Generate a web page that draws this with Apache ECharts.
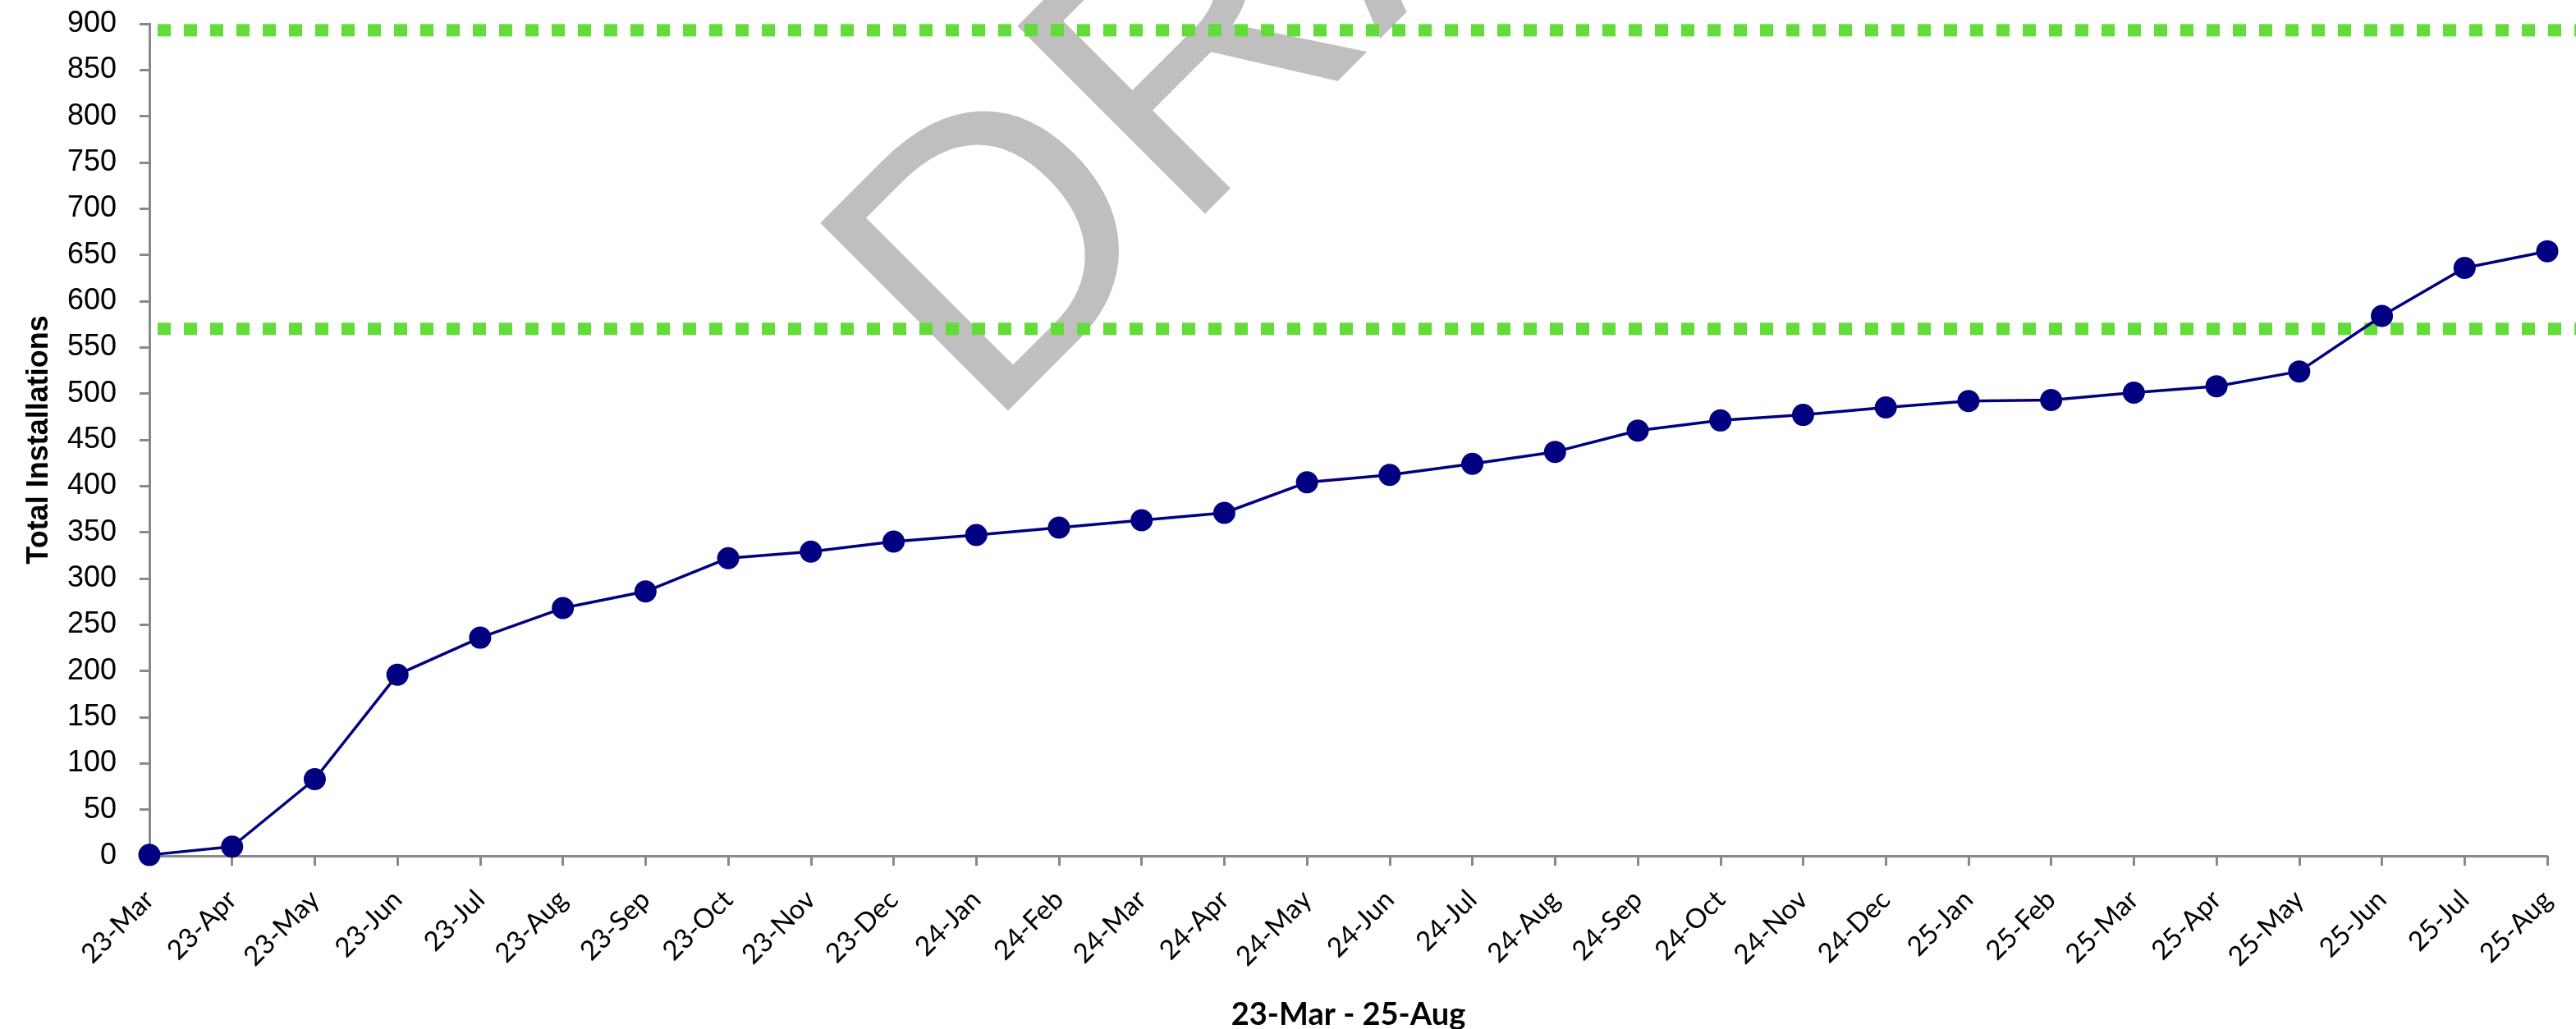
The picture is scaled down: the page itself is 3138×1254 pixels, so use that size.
<!DOCTYPE html>
<html>
<head>
<meta charset="utf-8">
<title>Total Installations</title>
<script src="https://cdn.jsdelivr.net/npm/echarts@6/dist/echarts.min.js"></script>
<style>
  html, body { margin: 0; padding: 0; background: #ffffff; }
  #chart { width: 3138px; height: 1254px; }
</style>
</head>
<body>
<div id="chart"></div>
<script>
// Monthly cumulative installations, Mar 2023 - Aug 2025
const months = [
  '23-Mar', '23-Apr', '23-May', '23-Jun', '23-Jul', '23-Aug', '23-Sep', '23-Oct', '23-Nov', '23-Dec',
  '24-Jan', '24-Feb', '24-Mar', '24-Apr', '24-May', '24-Jun', '24-Jul', '24-Aug', '24-Sep', '24-Oct', '24-Nov', '24-Dec',
  '25-Jan', '25-Feb', '25-Mar', '25-Apr', '25-May', '25-Jun', '25-Jul', '25-Aug'
];
const totalInstallations = [
  1, 10, 83, 196, 236, 268, 286, 322, 329, 340,
  347, 355, 363, 371, 404, 412, 424, 437, 460, 471, 477, 485,
  492, 493, 501, 508, 524, 584, 636, 654
];
// Reference levels drawn as dotted bands
const upperLevel = 893;
const lowerLevel = 570;
// Value axis range
const yMin = 0;
const yMax = 900;
const yStep = 50;

const axisGray = '#898989';
const navy = '#000080';
const levelGreen = '#63DB38';

const chart = echarts.init(document.getElementById('chart'), null, { renderer: 'canvas' });

function levelSeries(value) {
  return {
    type: 'line',
    xAxisIndex: 1,
    yAxisIndex: 1,
    data: [[0, value], [1, value]],
    symbol: 'none',
    silent: true,
    z: 3,
    lineStyle: { color: levelGreen, width: 15, type: [16, 16], cap: 'butt' }
  };
}

chart.setOption({
  animation: false,
  backgroundColor: '#ffffff',
  graphic: [{
    type: 'text',
    x: 1109,
    y: 436,
    rotation: Math.PI / 4,
    z: -10,
    silent: true,
    style: {
      text: 'DRAFT',
      fill: '#BFBFBF',
      fontSize: 470,
      fontFamily: '"Liberation Sans", Arial, sans-serif',
      align: 'left',
      verticalAlign: 'middle',
      textAlign: 'left',
      textVerticalAlign: 'middle'
    }
  }],
  grid: [
    { left: 182, right: 35, top: 29, bottom: 211, outerBoundsMode: 'none' },
    { left: 192, right: 0, top: 29, bottom: 211, outerBoundsMode: 'none' }
  ],
  xAxis: [{
    type: 'category',
    gridIndex: 0,
    data: months,
    boundaryGap: false,
    name: '23-Mar - 25-Aug',
    nameLocation: 'middle',
    nameGap: 175,
    nameTextStyle: { fontFamily: 'Lato', fontWeight: 'bold', fontSize: 38, color: '#000' },
    axisLine: { lineStyle: { color: axisGray, width: 3 } },
    axisTick: { show: true, length: 12, inside: false, lineStyle: { color: axisGray, width: 3 } },
    axisLabel: {
      interval: 0,
      rotate: 45,
      margin: 48,
      fontFamily: 'Lato',
      fontSize: 33,
      color: '#000'
    },
    splitLine: { show: false }
  }, {
    type: 'value',
    gridIndex: 1,
    min: 0,
    max: 1,
    show: false
  }],
  yAxis: [{
    type: 'value',
    gridIndex: 0,
    min: yMin,
    max: yMax,
    interval: yStep,
    name: 'Total Installations',
    nameLocation: 'middle',
    nameGap: 116,
    nameTextStyle: { fontFamily: '"Liberation Sans", Arial, sans-serif', fontWeight: 'bold', fontSize: 36, color: '#000' },
    axisLine: { show: true, lineStyle: { color: axisGray, width: 3 } },
    axisTick: { show: true, length: 12, inside: false, lineStyle: { color: axisGray, width: 3 } },
    axisLabel: {
      margin: 40,
      fontFamily: '"Liberation Sans", Arial, sans-serif',
      fontSize: 36,
      color: '#000'
    },
    splitLine: { show: false }
  }, {
    type: 'value',
    gridIndex: 1,
    min: yMin,
    max: yMax,
    show: false
  }],
  series: [
    levelSeries(upperLevel),
    levelSeries(lowerLevel),
    {
      name: 'Total Installations',
      type: 'line',
      xAxisIndex: 0,
      yAxisIndex: 0,
      data: totalInstallations,
      symbol: 'circle',
      symbolSize: 27,
      z: 5,
      lineStyle: { color: navy, width: 3.5 },
      itemStyle: { color: navy }
    }
  ]
});
</script>
</body>
</html>
